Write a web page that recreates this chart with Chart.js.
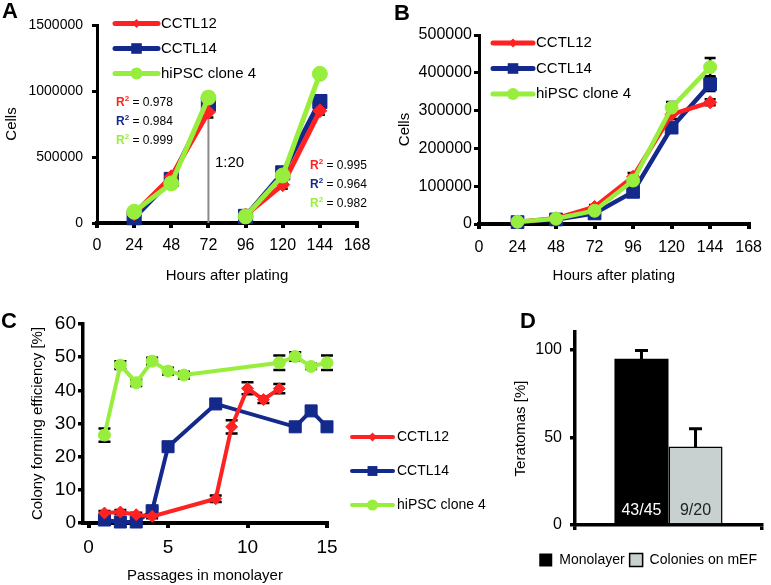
<!DOCTYPE html>
<html><head><meta charset="utf-8">
<script src="https://cdn.jsdelivr.net/npm/chart.js@4"></script>
<style>
html,body{margin:0;padding:0;background:#fff;}
#wrap{position:relative;width:771px;height:585px;overflow:hidden;background:#fff;}
canvas{position:absolute;}
</style></head><body>
<div id="wrap">
<canvas id="cA" width="390" height="300" style="left:0;top:0;width:390px;height:300px"></canvas>
<canvas id="cB" width="381" height="300" style="left:390px;top:0;width:381px;height:300px"></canvas>
<canvas id="cC" width="505" height="285" style="left:0;top:300px;width:505px;height:285px"></canvas>
<canvas id="cD" width="266" height="285" style="left:505px;top:300px;width:266px;height:285px"></canvas>
</div>
<script>
// ---------------- data ----------------
const seriesNames = ['CCTL12', 'CCTL14', 'hiPSC clone 4'];

// Panel A
const aHours  = [24, 48, 72, 96, 120, 144];
const aCCTL12 = [70000, 350000, 840000, 60000, 290000, 850000];
const aCCTL14 = [40000, 330000, 900000, 50000, 380000, 920000];
const aHiPSC  = [85000, 300000, 950000, 50000, 360000, 1130000];
const aErr12  = [15000, 20000, 40000, 15000, 30000, 30000];
const aErr14  = [15000, 20000, 40000, 10000, 25000, 40000];
const aErrH   = [10000, 15000, 35000, 10000, 20000, 20000];
const aR2First  = ['0.978', '0.984', '0.999'];
const aR2Second = ['0.995', '0.964', '0.982'];
const aSplitHour = 72;
const aSplitTop = 810000;
const aSplitLabel = '1:20';
const aXTicks = [0, 24, 48, 72, 96, 120, 144, 168];

// Panel B
const bHours  = [24, 48, 72, 96, 120, 144];
const bCCTL12 = [5000, 15000, 45000, 125000, 290000, 322000];
const bCCTL14 = [5000, 12000, 28000, 85000, 255000, 370000];
const bHiPSC  = [6000, 14000, 35000, 115000, 308000, 415000];
const bErr12  = [2000, 3000, 5000, 10000, 12000, 8000];
const bErr14  = [2000, 3000, 4000, 8000, 10000, 18000];
const bErrH   = [2000, 3000, 4000, 8000, 15000, 24000];

// Panel C
const cPass12 = [1, 2, 3, 4, 8, 9, 10, 11, 12];
const cCCTL12 = [3, 3.3, 2.5, 2, 7.3, 29, 40.6, 37.2, 40.5];
const cErr12  = [0.6, 0.6, 0.6, 0.6, 1, 2, 1.8, 1, 1.4];
const cPass14 = [1, 2, 3, 4, 5, 8, 13, 14, 15];
const cCCTL14 = [0.9, 0.3, 0.3, 3.7, 23, 35.9, 29, 33.8, 29];
const cErr14  = [0.5, 0.4, 0.4, 0.8, 1, 1.2, 0.8, 1, 1];
const cPassH  = [1, 2, 3, 4, 5, 6, 12, 13, 14, 15];
const cHiPSC  = [26.5, 47.6, 42.3, 48.8, 45.8, 44.6, 48.3, 50.2, 47.2, 48.3];
const cErrH   = [2, 1.2, 1, 1, 1, 1, 2.2, 1.3, 0.8, 2.2];
const cXTicks = [0, 5, 10, 15];

// Panel D
const dGroups = ['Monolayer', 'Colonies on mEF'];
const dValues = [94.7, 44.7];
const dErrors = [4.7, 10.2];
const dCounts = ['43/45', '9/20'];
const dYTicks = [0, 50, 100];

// ---------------- style ----------------
const RED = '#ff2222', BLUE = '#14298c', GREEN = '#98ee3c';
const FONT = "Arial, 'Liberation Sans', Helvetica, sans-serif";
Chart.defaults.font.family = FONT;
Chart.defaults.color = '#000';
Chart.defaults.animation = false;

function pts(xs, ys) { return xs.map((x, i) => ({x: x, y: ys[i]})); }

function axis(width, tickLen) {
  return {
    border: {display: true, color: '#000', width: width},
    grid: {display: true, drawOnChartArea: false, drawTicks: true, tickLength: tickLen, color: '#000', lineWidth: width}
  };
}

// error bars drawn under the datasets
const errorBars = {
  id: 'errorBars',
  beforeDatasetsDraw(chart, args, o) {
    const ctx = chart.ctx, ys = chart.scales.y;
    chart.data.datasets.forEach((ds, i) => {
      if (!ds.errors) return;
      const meta = chart.getDatasetMeta(i);
      ctx.save();
      ctx.strokeStyle = '#000';
      ctx.lineWidth = o.width || 2.5;
      meta.data.forEach((el, j) => {
        const e = ds.errors[j];
        if (!e) return;
        const v = meta.controller.getParsed(j).y;
        const y1 = ys.getPixelForValue(v + e), y2 = ys.getPixelForValue(v - e);
        const x = el.x, c = (o.cap || 10) / 2;
        ctx.beginPath();
        ctx.moveTo(x, y1); ctx.lineTo(x, y2);
        ctx.moveTo(x - c, y1); ctx.lineTo(x + c, y1);
        ctx.moveTo(x - c, y2); ctx.lineTo(x + c, y2);
        ctx.stroke();
      });
      ctx.restore();
    });
  }
};

function drawMarker(ctx, style, x, y, r, color) {
  ctx.fillStyle = color;
  ctx.beginPath();
  if (style === 'circle') ctx.arc(x, y, r, 0, Math.PI * 2);
  else if (style === 'rect') { const s = r * Math.SQRT1_2; ctx.rect(x - s, y - s, 2 * s, 2 * s); }
  else { ctx.moveTo(x, y - r); ctx.lineTo(x + r, y); ctx.lineTo(x, y + r); ctx.lineTo(x - r, y); ctx.closePath(); }
  ctx.fill();
}

// line + marker legend drawn at a given spot
const lineLegend = {
  id: 'lineLegend',
  afterDraw(chart, args, o) {
    if (!o || o.x === undefined) return;
    const ctx = chart.ctx;
    ctx.save();
    chart.data.datasets.forEach((ds, i) => {
      const y = o.y + i * o.gap;
      ctx.strokeStyle = ds.borderColor;
      ctx.lineWidth = o.lw;
      ctx.lineCap = 'round';
      ctx.beginPath(); ctx.moveTo(o.x, y); ctx.lineTo(o.x + o.len, y); ctx.stroke();
      drawMarker(ctx, ds.pointStyle, o.x + o.len / 2, y, o.radii[i], ds.borderColor);
      ctx.fillStyle = '#000';
      ctx.font = o.size + 'px ' + FONT;
      ctx.textBaseline = 'middle';
      ctx.textAlign = 'left';
      ctx.fillText(ds.label, o.x + o.len + o.textGap, y);
    });
    ctx.restore();
  }
};

const panelLabel = {
  id: 'panelLabel',
  afterDraw(chart, args, o) {
    if (!o || !o.text) return;
    const ctx = chart.ctx;
    ctx.save();
    ctx.font = 'bold 22px ' + FONT;
    ctx.fillStyle = '#000';
    ctx.textBaseline = 'middle';
    ctx.textAlign = 'left';
    ctx.fillText(o.text, o.x, o.y);
    ctx.restore();
  }
};

function drawR2(ctx, x, y, color, val) {
  ctx.textBaseline = 'middle';
  ctx.textAlign = 'left';
  ctx.font = 'bold 12px ' + FONT;
  ctx.fillStyle = color;
  ctx.fillText('R', x, y);
  let w = ctx.measureText('R').width;
  ctx.font = 'bold 8px ' + FONT;
  ctx.fillText('2', x + w, y - 4);
  w += ctx.measureText('2').width;
  ctx.font = '12px ' + FONT;
  ctx.fillStyle = '#000';
  ctx.fillText(' = ' + val, x + w, y);
}

const aNotes = {
  id: 'aNotes',
  beforeDatasetsDraw(chart) {
    const ctx = chart.ctx, xs = chart.scales.x, ys = chart.scales.y;
    const x = xs.getPixelForValue(aSplitHour);
    ctx.save();
    ctx.strokeStyle = '#8a8a8a';
    ctx.lineWidth = 2;
    ctx.beginPath();
    ctx.moveTo(x, ys.getPixelForValue(0));
    ctx.lineTo(x, ys.getPixelForValue(aSplitTop));
    ctx.stroke();
    ctx.restore();
  },
  afterDraw(chart) {
    const ctx = chart.ctx, a = chart.chartArea;
    ctx.save();
    ctx.font = '15px ' + FONT;
    ctx.fillStyle = '#000';
    ctx.textBaseline = 'middle';
    ctx.fillText(aSplitLabel, a.left + 118, a.top + 138);
    const cols = [RED, BLUE, GREEN];
    aR2First.forEach((v, i) => drawR2(ctx, a.left + 19, a.top + 78 + i * 19, cols[i], v));
    aR2Second.forEach((v, i) => drawR2(ctx, a.left + 213, a.top + 141 + i * 19, cols[i], v));
    ctx.restore();
  }
};

const barLabels = {
  id: 'barLabels',
  afterDatasetsDraw(chart) {
    const ctx = chart.ctx, a = chart.chartArea;
    ctx.save();
    ctx.font = '16px ' + FONT;
    ctx.textAlign = 'center';
    ctx.textBaseline = 'middle';
    chart.data.datasets.forEach((ds, i) => {
      const el = chart.getDatasetMeta(i).data[0];
      ctx.fillStyle = i === 0 ? '#fff' : '#222';
      ctx.fillText(ds.count, el.x, a.bottom - 14);
    });
    ctx.restore();
  }
};

function lineSet(label, color, style, data, errors, radius, order, lw, extra) {
  return Object.assign({
    label: label, data: data, errors: errors,
    borderColor: color, backgroundColor: color,
    pointStyle: style, pointRadius: radius, pointHoverRadius: radius,
    pointBackgroundColor: color, pointBorderColor: color, pointBorderWidth: 1,
    borderWidth: lw, tension: 0, clip: false, order: order
  }, extra || {});
}

// ---------------- Panel A ----------------
const hideGap = {borderColor: ctx => aHours[ctx.p0DataIndex] === aSplitHour ? 'rgba(0,0,0,0)' : undefined};
new Chart(document.getElementById('cA'), {
  type: 'line',
  data: {datasets: [
    lineSet(seriesNames[0], RED, 'rectRot', pts(aHours, aCCTL12), aErr12, 7, 1, 5, {segment: hideGap}),
    lineSet(seriesNames[1], BLUE, 'rect', pts(aHours, aCCTL14), aErr14, 10, 2, 5, {segment: hideGap}),
    lineSet(seriesNames[2], GREEN, 'circle', pts(aHours, aHiPSC), aErrH, 7.5, 0, 5, {segment: hideGap})
  ]},
  options: {
    responsive: false, devicePixelRatio: 1,
    layout: {padding: {top: 25, right: 33, bottom: 0, left: 0}},
    scales: {
      x: Object.assign(axis(4, 5), {type: 'linear', min: 0, max: 168,
        afterBuildTicks: s => { s.ticks = aXTicks.map(v => ({value: v})); },
        ticks: {font: {size: 16}, padding: 8, callback: v => v},
        title: {display: true, text: 'Hours after plating', font: {size: 15}, padding: {bottom: 15}},
        afterFit: s => { s.height = 77; }}),
      y: Object.assign(axis(3, 5), {min: 0, max: 1500000,
        ticks: {stepSize: 500000, font: {size: 14}, padding: 9, callback: v => v},
        title: {display: true, text: 'Cells', font: {size: 15}, padding: {top: 3}},
        afterFit: s => { s.width = 97; }})
    },
    plugins: {
      legend: {display: false}, tooltip: {enabled: false},
      errorBars: {width: 2.5, cap: 10},
      lineLegend: {x: 115, y: 23.5, gap: 25, len: 43, lw: 5, textGap: 3, size: 15, radii: [4.5, 7.5, 6]},
      panelLabel: {text: 'A', x: 2, y: 12}
    }
  },
  plugins: [errorBars, aNotes, lineLegend, panelLabel]
});

// ---------------- Panel B ----------------
new Chart(document.getElementById('cB'), {
  type: 'line',
  data: {datasets: [
    lineSet(seriesNames[0], RED, 'rectRot', pts(bHours, bCCTL12), bErr12, 6.5, 1, 4.5),
    lineSet(seriesNames[1], BLUE, 'rect', pts(bHours, bCCTL14), bErr14, 9, 2, 4.5),
    lineSet(seriesNames[2], GREEN, 'circle', pts(bHours, bHiPSC), bErrH, 6.5, 0, 4.5)
  ]},
  options: {
    responsive: false, devicePixelRatio: 1,
    layout: {padding: {top: 35, right: 20, bottom: 0, left: 0}},
    scales: {
      x: Object.assign(axis(4, 5), {type: 'linear', min: 0, max: 168,
        afterBuildTicks: s => { s.ticks = aXTicks.map(v => ({value: v})); },
        ticks: {font: {size: 16}, padding: 9, callback: v => v},
        title: {display: true, text: 'Hours after plating', font: {size: 15}, padding: {bottom: 15}},
        afterFit: s => { s.height = 76; }}),
      y: Object.assign(axis(3, 5), {min: 0, max: 500000,
        ticks: {stepSize: 100000, font: {size: 16}, padding: 2, callback: v => v},
        title: {display: true, text: 'Cells', font: {size: 15}, padding: {top: 6}},
        afterFit: s => { s.width = 89; }})
    },
    plugins: {
      legend: {display: false}, tooltip: {enabled: false},
      errorBars: {width: 2.5, cap: 11},
      lineLegend: {x: 103, y: 43, gap: 25.5, len: 40, lw: 5, textGap: 3, size: 15, radii: [4.5, 7.5, 6]},
      panelLabel: {text: 'B', x: 4, y: 14}
    }
  },
  plugins: [errorBars, lineLegend, panelLabel]
});

// ---------------- Panel C ----------------
new Chart(document.getElementById('cC'), {
  type: 'line',
  data: {datasets: [
    lineSet(seriesNames[0], RED, 'rectRot', pts(cPass12, cCCTL12), cErr12, 6, 1, 4),
    lineSet(seriesNames[1], BLUE, 'rect', pts(cPass14, cCCTL14), cErr14, 8.5, 2, 4),
    lineSet(seriesNames[2], GREEN, 'circle', pts(cPassH, cHiPSC), cErrH, 6, 0, 4)
  ]},
  options: {
    responsive: false, devicePixelRatio: 1,
    layout: {padding: {top: 24, right: 178, bottom: 0, left: 0}},
    scales: {
      x: Object.assign(axis(4, 5), {type: 'linear', min: -0.35, max: 15,
        afterBuildTicks: s => { s.ticks = cXTicks.map(v => ({value: v})); },
        ticks: {font: {size: 19}, padding: 8, callback: v => v},
        title: {display: true, text: 'Passages in monolayer', font: {size: 15}, padding: {bottom: 0}},
        afterFit: s => { s.height = 62; }}),
      y: Object.assign(axis(3.5, 5), {min: 0, max: 60,
        ticks: {stepSize: 10, font: {size: 19}, padding: 2},
        title: {display: true, text: 'Colony forming efficiency [%]', font: {size: 15}, padding: {top: 29}},
        afterFit: s => { s.width = 83; }})
    },
    plugins: {
      legend: {display: false}, tooltip: {enabled: false},
      errorBars: {width: 2.5, cap: 12},
      lineLegend: {x: 352, y: 137, gap: 34, len: 41, lw: 4, textGap: 4, size: 14, radii: [4.5, 7, 5.5]},
      panelLabel: {text: 'C', x: 1, y: 22}
    }
  },
  plugins: [errorBars, lineLegend, panelLabel]
});

// ---------------- Panel D ----------------
const dFill = ['#000000', '#c9d0d0'];
new Chart(document.getElementById('cD'), {
  type: 'bar',
  data: {labels: [''], datasets: dGroups.map((g, i) => ({
    label: g, data: [dValues[i]], errors: [dErrors[i]], count: dCounts[i],
    backgroundColor: dFill[i], borderColor: '#000', borderWidth: i === 0 ? 0 : 1.5,
    categoryPercentage: 0.578, barPercentage: 1
  }))},
  options: {
    responsive: false, devicePixelRatio: 1,
    layout: {padding: {top: 32, right: 9, bottom: 8, left: 0}},
    scales: {
      x: Object.assign(axis(3.5, 5), {ticks: {display: false},
        afterFit: s => { s.height = 23; }}),
      y: Object.assign(axis(3.5, 5), {min: 0, max: 110,
        afterBuildTicks: s => { s.ticks = dYTicks.map(v => ({value: v})); },
        ticks: {font: {size: 16}, padding: 8},
        title: {display: true, text: 'Teratomas [%]', font: {size: 15}, padding: {top: 7}},
        afterFit: s => { s.width = 70; }})
    },
    plugins: {
      legend: {position: 'bottom', align: 'end',
        labels: {boxWidth: 13, boxHeight: 13, padding: 5, font: {size: 14}, color: '#000'}},
      tooltip: {enabled: false},
      errorBars: {width: 3, cap: 13},
      panelLabel: {text: 'D', x: 15, y: 22}
    }
  },
  plugins: [errorBars, barLabels, panelLabel]
});
</script>
</body></html>
